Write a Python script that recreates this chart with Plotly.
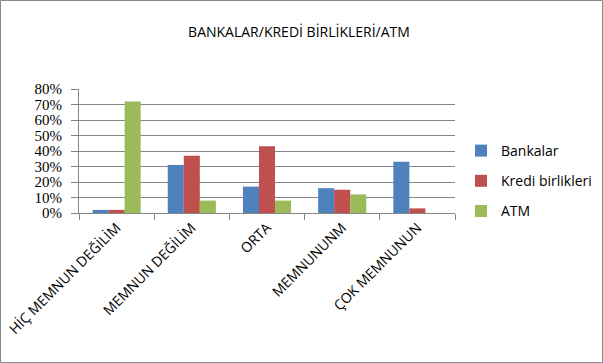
import plotly.graph_objects as go

categories = ["HİÇ MEMNUN DEĞİLİM", "MEMNUN DEĞİLİM", "ORTA", "MEMNUNUNM", "ÇOK MEMNUNUN"]
bankalar = [0.02, 0.31, 0.17, 0.16, 0.33]
kredi = [0.02, 0.37, 0.43, 0.15, 0.03]
atm = [0.72, 0.08, 0.08, 0.12, 0.0]
series_names = ["Bankalar", "Kredi birlikleri", "ATM"]
colors = ["#4F81BD", "#C0504D", "#9BBB59"]
tick_vals = [0, 0.1, 0.2, 0.3, 0.4, 0.5, 0.6, 0.7, 0.8]

fig = go.Figure()
for name, vals, col in zip(series_names, [bankalar, kredi, atm], colors):
    fig.add_trace(go.Bar(x=categories, y=vals, name=name, marker_color=col,
                         marker_line_width=0, legendgroup=name))

L, R, T, B = 79, 148, 89, 150
W, H = 603, 363
pw, ph = W - L - R, H - T - B

fig.update_layout(
    width=W, height=H,
    margin=dict(l=L, r=R, t=T, b=B, pad=0, autoexpand=False),
    paper_bgcolor="white", plot_bgcolor="white",
    barmode="group", bargap=0.36, bargroupgap=0,
    title=dict(text="BANKALAR/KREDİ BİRLİKLERİ/ATM", x=299 / W, xanchor="center",
               y=1 - 32 / H, yanchor="middle",
               font=dict(family="Open Sans", size=14, color="black")),
    legend=dict(x=(461 - L) / pw, xanchor="left", y=(213 - 181) / ph, yanchor="middle",
                font=dict(family="Open Sans", size=14, color="black"),
                tracegroupgap=9, itemwidth=30, bgcolor="rgba(0,0,0,0)"),
    showlegend=True,
    shapes=[dict(type="rect", xref="paper", yref="paper",
                 x0=-(L - 0.5) / pw, x1=(W - L - 0.5) / pw,
                 y0=-(B - 0.5) / ph, y1=1 + (T - 0.5) / ph,
                 line=dict(color="#888888", width=1), fillcolor="rgba(0,0,0,0)", layer="below")],
)
fig.update_yaxes(range=[0, 0.8], tickvals=tick_vals, tickformat=".0%",
                 showgrid=True, gridcolor="#868686", gridwidth=1,
                 showline=True, linecolor="#868686", linewidth=1,
                 ticks="outside", ticklen=7, tickcolor="#868686",
                 ticklabelstandoff=6,
                 tickfont=dict(family="Liberation Serif", size=15, color="black"),
                 zeroline=False, automargin=False)
fig.update_xaxes(showline=True, linecolor="#868686", linewidth=1,
                 ticks="outside", ticklen=6, tickcolor="#868686", tickson="boundaries",
                 tickangle=-45, automargin=False,
                 tickfont=dict(family="Open Sans", size=14, color="black"))

fig.write_html("out.html", config={"displayModeBar": False},
               post_script="document.body.style.margin='0';document.body.style.padding='0';")
